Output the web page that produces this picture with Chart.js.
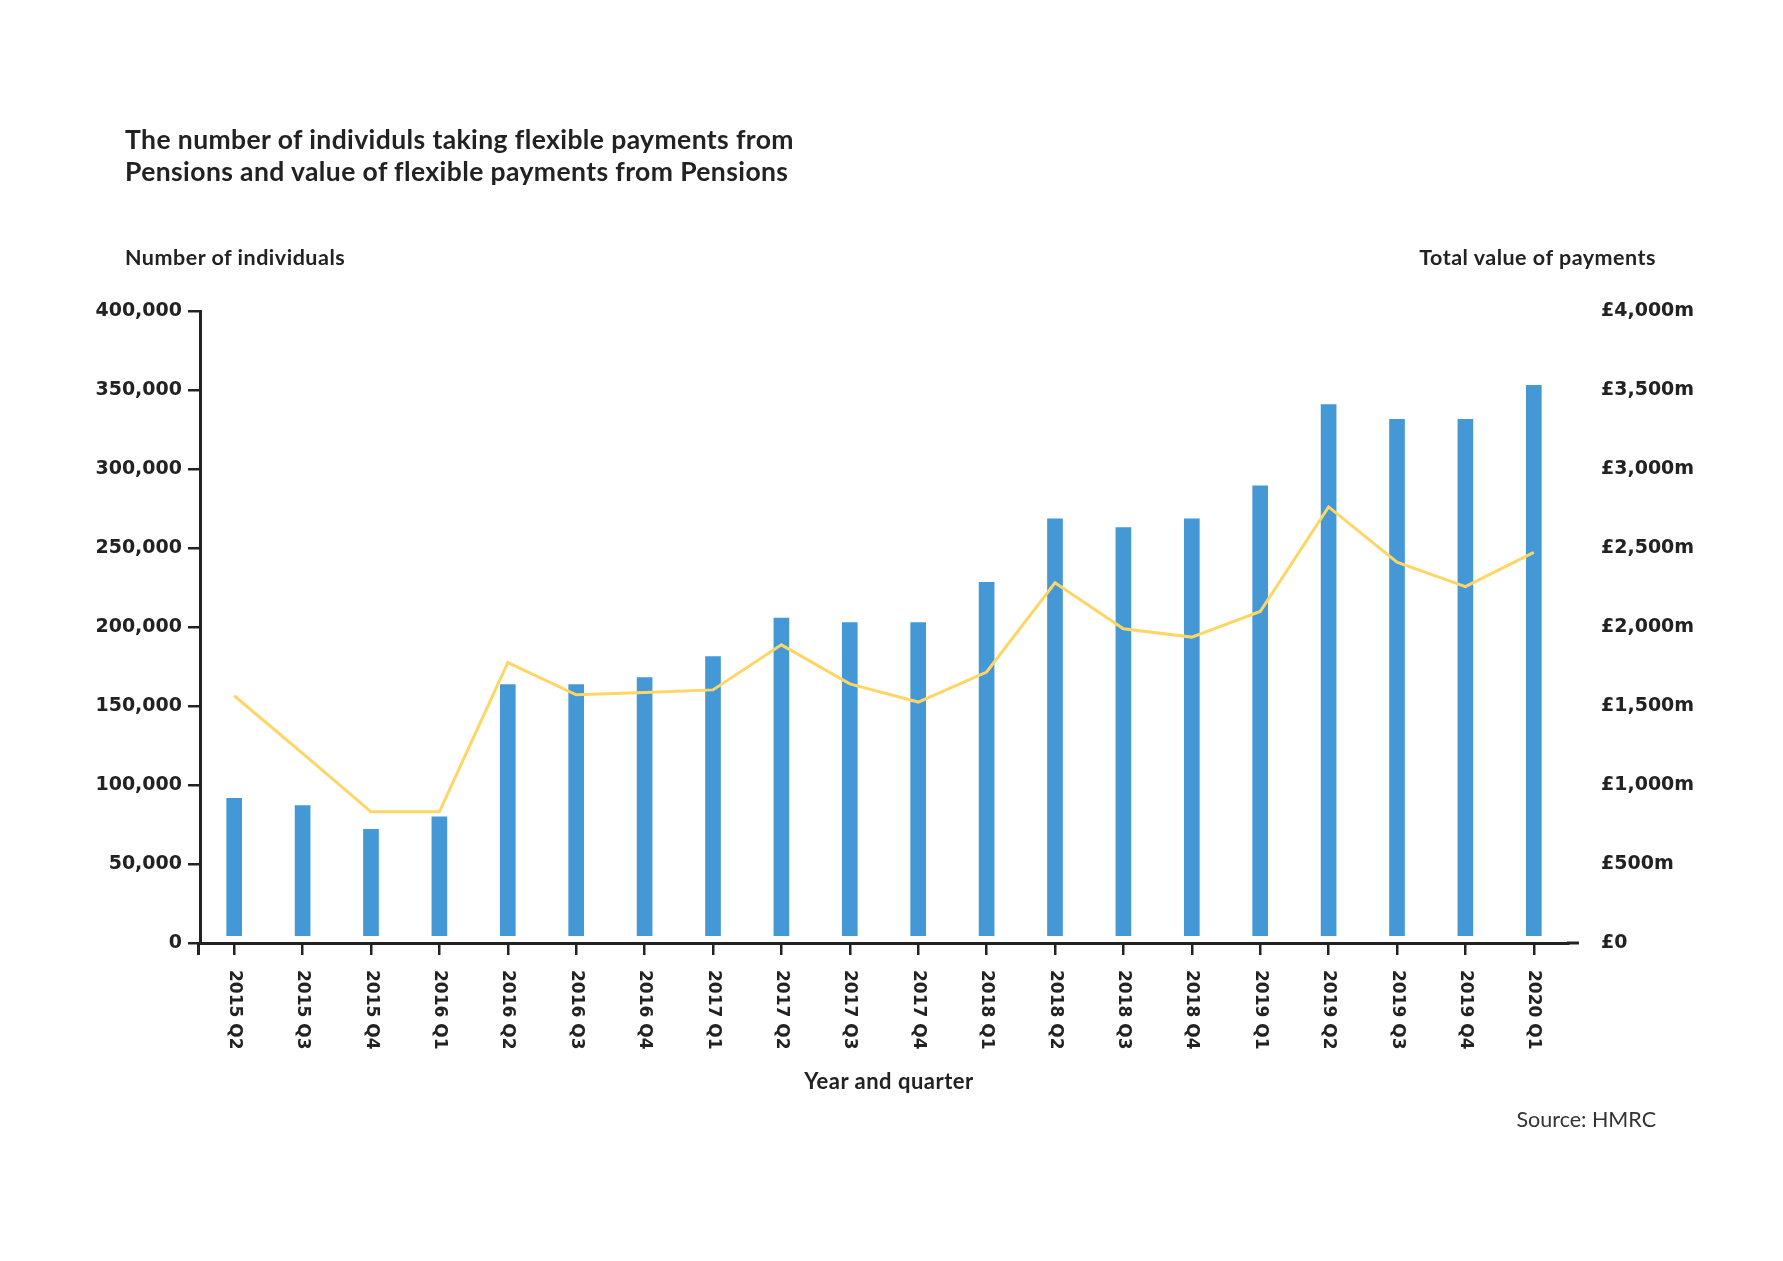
<!DOCTYPE html>
<html><head><meta charset="utf-8">
<script src="https://cdn.jsdelivr.net/npm/chart.js@4/dist/chart.umd.min.js"></script>
<style>
html,body{margin:0;padding:0;background:#fff;}
#wrap{position:relative;width:1783px;height:1261px;overflow:hidden;background:#fff;}
canvas{position:absolute;left:0;top:0;}
.t{position:absolute;color:#222;font-family:Lato,"Open Sans",sans-serif;white-space:nowrap;line-height:1;transform:translateY(-50%);}
</style></head><body>
<div id="wrap">
<canvas id="c" width="1783" height="1261"></canvas>
<div class="t" style="left:125px;top:139px;font-size:26.5px;font-weight:700;letter-spacing:0.4px">The number of individuls taking flexible payments from</div>
<div class="t" style="left:125px;top:171px;font-size:26.5px;font-weight:700;letter-spacing:0.4px">Pensions and value of flexible payments from Pensions</div>
<div class="t" style="left:125px;top:258px;font-size:21.5px;font-weight:700;letter-spacing:0.5px">Number of individuals</div>
<div class="t" style="right:127px;top:258px;font-size:21.5px;font-weight:700;letter-spacing:0.5px">Total value of payments</div>
<div class="t" style="left:889px;top:1081px;font-size:22px;font-weight:700;letter-spacing:0.5px;transform:translate(-50%,-50%)">Year and quarter</div>
<div class="t" style="right:127px;top:1120px;font-size:21.5px;font-weight:400;color:#333">Source: HMRC</div>
</div>
<script>
const categories = ['2015 Q2','2015 Q3','2015 Q4','2016 Q1','2016 Q2','2016 Q3','2016 Q4','2017 Q1','2017 Q2','2017 Q3','2017 Q4','2018 Q1','2018 Q2','2018 Q3','2018 Q4','2019 Q1','2019 Q2','2019 Q3','2019 Q4','2020 Q1'];
const individuals = [91500, 87000, 72000, 79800, 163600, 163600, 168000, 181200, 205600, 202800, 202800, 228200, 268400, 263000, 268400, 289300, 340800, 331400, 331400, 353000];
const paymentsValue = [1565, 1200, 830, 830, 1775, 1571, 1585, 1602, 1887, 1640, 1525, 1715, 2280, 1989, 1936, 2098, 2760, 2410, 2255, 2472];
const leftTickLabels = ['0','50,000','100,000','150,000','200,000','250,000','300,000','350,000','400,000'];
const rightTickLabels = ['£0','£500m','£1,000m','£1,500m','£2,000m','£2,500m','£3,000m','£3,500m','£4,000m'];

const INK = '#222222';
const tickFont = {family:'"DejaVu Sans"', size:19, weight:'bold'};

const xLabelPlugin = {
  id:'xlabels',
  afterDraw(chart){
    const ctx = chart.ctx, xs = chart.scales.x, a = chart.chartArea;
    ctx.save();
    ctx.strokeStyle = INK; ctx.lineWidth = 3;
    ctx.beginPath(); ctx.moveTo(a.right - 1, a.bottom); ctx.lineTo(a.right + 11, a.bottom); ctx.stroke();
    ctx.beginPath(); ctx.moveTo(a.left - 1.5, a.bottom); ctx.lineTo(a.left - 1.5, a.bottom + 12); ctx.stroke();
    ctx.font = 'bold 17px "DejaVu Sans"';
    ctx.fillStyle = INK; ctx.textAlign = 'left'; ctx.textBaseline = 'middle';
    categories.forEach((c, i) => {
      const x = xs.getPixelForValue(i);
      ctx.save(); ctx.translate(x, a.bottom + 27); ctx.rotate(Math.PI / 2); ctx.fillText(c, 0, 0); ctx.restore();
    });
    ctx.restore();
  }
};

new Chart(document.getElementById('c'), {
  type: 'bar',
  data: {
    labels: categories,
    datasets: [
      {type:'line', label:'Total value of payments', data: paymentsValue, yAxisID:'y2',
       borderColor:'#FDD665', borderWidth:3, pointRadius:0, tension:0, order:0, fill:false},
      {type:'bar', label:'Number of individuals', data: individuals, yAxisID:'y',
       backgroundColor:'#4398D5', barThickness:15, base:4600, order:1}
    ]
  },
  options: {
    responsive:false, animation:false, devicePixelRatio:1,
    layout:{padding:{top:311, bottom:0, left:0, right:0}},
    plugins:{legend:{display:false}, tooltip:{enabled:false}, title:{display:false}},
    scales:{
      x:{
        offset:true,
        grid:{display:true, offset:false, drawOnChartArea:false, drawTicks:true, tickLength:12, color:INK, lineWidth:2.5},
        border:{display:true, color:INK, width:3},
        ticks:{display:false},
        afterFit(s){ s.height = 318; }
      },
      y:{
        position:'left', min:0, max:400000,
        ticks:{stepSize:50000, color:INK, font:tickFont, padding:6,
          callback:(v, i) => leftTickLabels[i]},
        grid:{display:true, drawOnChartArea:false, drawTicks:true, tickLength:12, color:INK, lineWidth:2.5},
        border:{display:true, color:INK, width:3},
        afterFit(s){ s.width = 200; }
      },
      y2:{
        position:'right', min:0, max:4000,
        ticks:{stepSize:500, color:INK, font:tickFont, padding:33,
          callback:(v, i) => rightTickLabels[i]},
        grid:{display:false, drawTicks:false},
        border:{display:false},
        afterFit(s){ s.width = 215; }
      }
    }
  },
  plugins:[xLabelPlugin]
});
</script>
</body></html>
